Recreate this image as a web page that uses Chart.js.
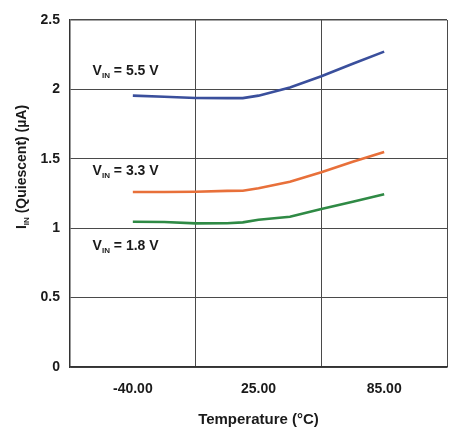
<!DOCTYPE html>
<html>
<head>
<meta charset="utf-8">
<script src="https://cdn.jsdelivr.net/npm/chart.js@4.4.1/dist/chart.umd.min.js"></script>
<style>
  html, body { margin: 0; padding: 0; background: #fff; }
  #wrap { width: 453px; height: 440px; position: relative; }
</style>
</head>
<body>
<div id="wrap"><canvas id="chart"></canvas></div>
<script>
// x positions are in tick units: 0 = -40 C, 1 = 25 C, 2 = 85 C (evenly spaced like the source)
const xLabels = ['-40.00', '25.00', '85.00'];
const xPos = [0, 0.25, 0.5, 0.75, 0.875, 1, 1.25, 1.5, 1.75, 2];
const vin55 = [1.955, 1.947, 1.938, 1.937, 1.937, 1.955, 2.014, 2.095, 2.185, 2.272];
const vin33 = [1.261, 1.261, 1.263, 1.269, 1.270, 1.288, 1.334, 1.403, 1.478, 1.549];
const vin18 = [1.047, 1.045, 1.035, 1.036, 1.042, 1.061, 1.082, 1.138, 1.191, 1.244];
const seriesNames = ['5.5 V', '3.3 V', '1.8 V'];
const seriesColors = ['#3a4f9c', '#e8703a', '#2f8a45'];

// where the V_IN labels sit, in axis units
const labelSpots = [[-0.32, 2.14], [-0.32, 1.42], [-0.32, 0.88]];

const FONT = '"Liberation Sans", Arial, sans-serif';
const INK = '#1a1a1a';

function widthOf(ctx, parts) {
  let w = 0;
  parts.forEach(([t, size]) => {
    ctx.font = 'bold ' + size + 'px ' + FONT;
    w += ctx.measureText(t).width;
  });
  return w;
}
function drawRuns(ctx, parts, x, y) {
  let cx = x;
  parts.forEach(([t, size, dy]) => {
    ctx.font = 'bold ' + size + 'px ' + FONT;
    ctx.fillText(t, cx, y + dy);
    cx += ctx.measureText(t).width;
  });
}

const textPlugin = {
  id: 'texts',
  afterDraw(chart) {
    const { ctx, chartArea, scales } = chart;
    ctx.save();
    ctx.fillStyle = INK;
    ctx.textAlign = 'left';
    ctx.textBaseline = 'alphabetic';

    // V_IN labels inside the plot
    seriesNames.forEach((name, i) => {
      const x = scales.x.getPixelForValue(labelSpots[i][0]);
      const y = scales.y.getPixelForValue(labelSpots[i][1]) + 5;
      drawRuns(ctx, [['V', 14, 0], ['IN', 8, 3], [' = ' + name, 14, 0]], x, y);
    });

    // x title
    ctx.textAlign = 'center';
    ctx.textBaseline = 'middle';
    ctx.font = 'bold 15px ' + FONT;
    ctx.fillText('Temperature (°C)', (chartArea.left + chartArea.right) / 2, 420);

    // y title with subscript, rotated
    const yParts = [['I', 14, 0], ['IN', 8, 3], [' (Quiescent) (µA)', 14, 0]];
    ctx.textAlign = 'left';
    ctx.textBaseline = 'alphabetic';
    ctx.translate(26, 167);
    ctx.rotate(-Math.PI / 2);
    drawRuns(ctx, yParts, -widthOf(ctx, yParts) / 2, 0);
    ctx.restore();
  }
};

const datasets = [vin55, vin33, vin18].map((vals, i) => ({
  label: seriesNames[i],
  data: xPos.map((x, j) => ({ x: x, y: vals[j] })),
  borderColor: seriesColors[i],
  borderWidth: 2.6,
  pointRadius: 0,
  tension: 0,
  fill: false
}));

new Chart(document.getElementById('chart'), {
  type: 'line',
  data: { datasets: datasets },
  options: {
    responsive: true,
    maintainAspectRatio: false,
    animation: false,
    layout: { padding: { top: 20, right: 6, left: 0, bottom: 0 } },
    plugins: { legend: { display: false }, tooltip: { enabled: false } },
    scales: {
      x: {
        type: 'linear',
        min: -0.5,
        max: 2.5,
        afterBuildTicks: s => { s.ticks = xLabels.map((_, i) => ({ value: i })); },
        afterFit: s => { s.height = 73; },
        ticks: {
          callback: v => xLabels[v],
          font: { family: FONT, size: 14, weight: 'bold' },
          color: INK,
          padding: 14,
          maxRotation: 0,
          autoSkip: false
        },
        grid: {
          offset: true,
          drawTicks: false,
          color: '#4a4a4a',
          lineWidth: c => c.index === 3 ? 1.5 : 1
        },
        border: { color: '#333', width: 1.5 }
      },
      y: {
        min: 0,
        max: 2.5,
        afterFit: s => { s.width = 70; },
        ticks: {
          stepSize: 0.5,
          callback: v => String(v),
          font: { family: FONT, size: 14, weight: 'bold' },
          color: INK,
          padding: 10
        },
        grid: {
          drawTicks: false,
          color: '#4a4a4a',
          lineWidth: c => c.tick && c.tick.value === 2.5 ? 1.5 : 1
        },
        border: { color: '#333', width: 1.5 }
      }
    }
  },
  plugins: [textPlugin]
});
</script>
</body>
</html>
